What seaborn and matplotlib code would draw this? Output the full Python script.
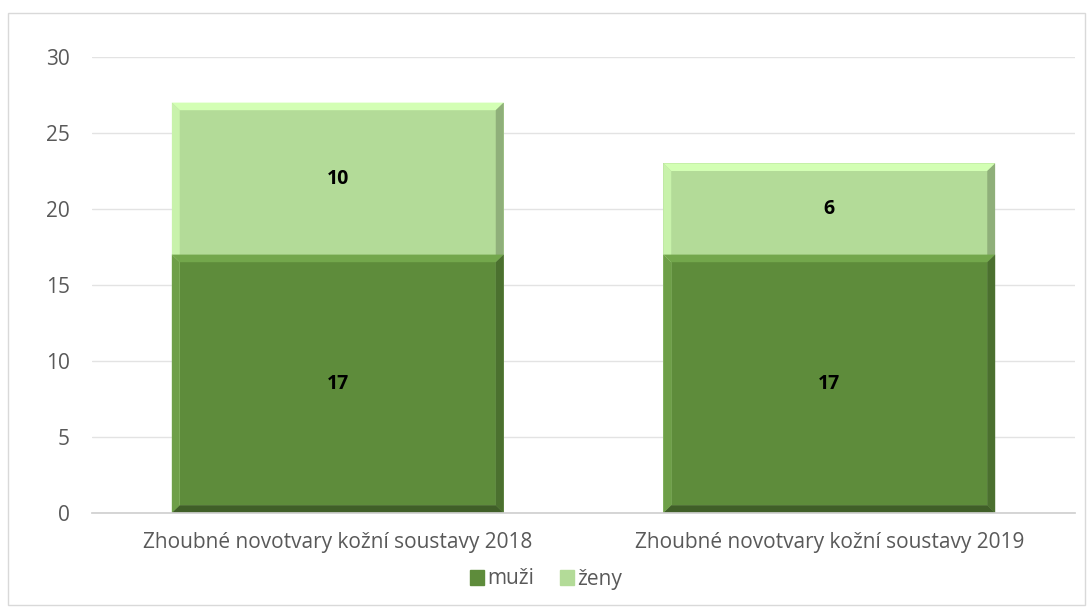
import numpy as np
import pandas as pd
import seaborn as sns
import matplotlib.pyplot as plt
from matplotlib.patches import Rectangle, Polygon

categories = ["Zhoubné novotvary kožní soustavy 2018", "Zhoubné novotvary kožní soustavy 2019"]
muzi = [17, 17]
zeny = [10, 6]
series_names = ["muži", "ženy"]

dark_green = "#5E8C3B"
light_green = "#B3DB98"

sns.set_theme(style="white")
plt.rcParams['font.family'] = ['Open Sans', 'DejaVu Sans']

df = pd.DataFrame({"kategorie": categories, "muzi": muzi, "zeny": zeny})
df["celkem"] = df["muzi"] + df["zeny"]

fig = plt.figure(figsize=(10.92, 6.12), dpi=100)
ax = fig.add_axes([92 / 1092, 1 - 513 / 612, 983 / 1092, 456 / 612])

# stacked: draw totals first, then the lower segment over it
sns.barplot(data=df, x="kategorie", y="celkem", color=light_green, width=0.675,
            saturation=1, ax=ax, linewidth=0)
sns.barplot(data=df, x="kategorie", y="muzi", color=dark_green, width=0.675,
            saturation=1, ax=ax, linewidth=0)

# bevel look: light top/left edges, dark bottom/right edges
dx, dy = 0.016, 0.5
for p in list(ax.patches):
    x0, y0 = p.get_x(), p.get_y()
    w, h = p.get_width(), p.get_height()
    fc = np.array(p.get_facecolor()[:3])
    light = np.minimum(1, fc * 1.12 + 0.04)
    dark = fc * 0.68
    side_dark = fc * 0.8
    z = p.get_zorder() + 0.1
    x1, y1 = x0 + w, y0 + h
    ax.add_patch(Polygon([(x0, y1), (x1, y1), (x1 - dx, y1 - dy), (x0 + dx, y1 - dy)],
                         closed=True, color=light, lw=0, zorder=z))
    ax.add_patch(Polygon([(x0, y0), (x0, y1), (x0 + dx, y1 - dy), (x0 + dx, y0 + dy)],
                         closed=True, color=light * 0.95, lw=0, zorder=z))
    ax.add_patch(Polygon([(x1, y0), (x1, y1), (x1 - dx, y1 - dy), (x1 - dx, y0 + dy)],
                         closed=True, color=side_dark, lw=0, zorder=z))
    ax.add_patch(Polygon([(x0, y0), (x1, y0), (x1 - dx, y0 + dy), (x0 + dx, y0 + dy)],
                         closed=True, color=dark, lw=0, zorder=z))

for i in range(len(categories)):
    ax.text(i, muzi[i] / 2, str(muzi[i]), ha="center", va="center",
            fontsize=14, fontweight="bold", color="black", zorder=5)
    ax.text(i, muzi[i] + zeny[i] / 2, str(zeny[i]), ha="center", va="center",
            fontsize=14, fontweight="bold", color="black", zorder=5)

ax.set_ylim(0, 30)
ax.set_xlim(-0.5, 1.5)
ax.set_yticks(range(0, 31, 5))
ax.yaxis.grid(True, color="#E3E3E3", linewidth=1)
ax.set_axisbelow(True)
ax.set_xlabel("")
ax.set_ylabel("")
for s in ["top", "right", "left"]:
    ax.spines[s].set_visible(False)
ax.spines["bottom"].set_color("#D0D0D0")
ax.tick_params(axis="y", length=0, labelsize=15, labelcolor="#595959", pad=16)
ax.tick_params(axis="x", length=0, labelsize=15, labelcolor="#595959", pad=14)

handles = [Rectangle((0, 0), 1, 1, color=dark_green), Rectangle((0, 0), 1, 1, color=light_green)]
fig.legend(handles, series_names, loc="center", bbox_to_anchor=(0.5, 1 - 579 / 612), ncol=2,
           frameon=False, fontsize=15, handlelength=0.7, handleheight=0.7,
           handletextpad=0.15, columnspacing=1.2, labelcolor="#595959")

fig.add_artist(Rectangle((8 / 1092, 1 - 605 / 612), 1077 / 1092, 592 / 612,
                         transform=fig.transFigure, fill=False, edgecolor="#D9D9D9", lw=1))

fig.savefig("out.png", dpi=100, facecolor="white")
